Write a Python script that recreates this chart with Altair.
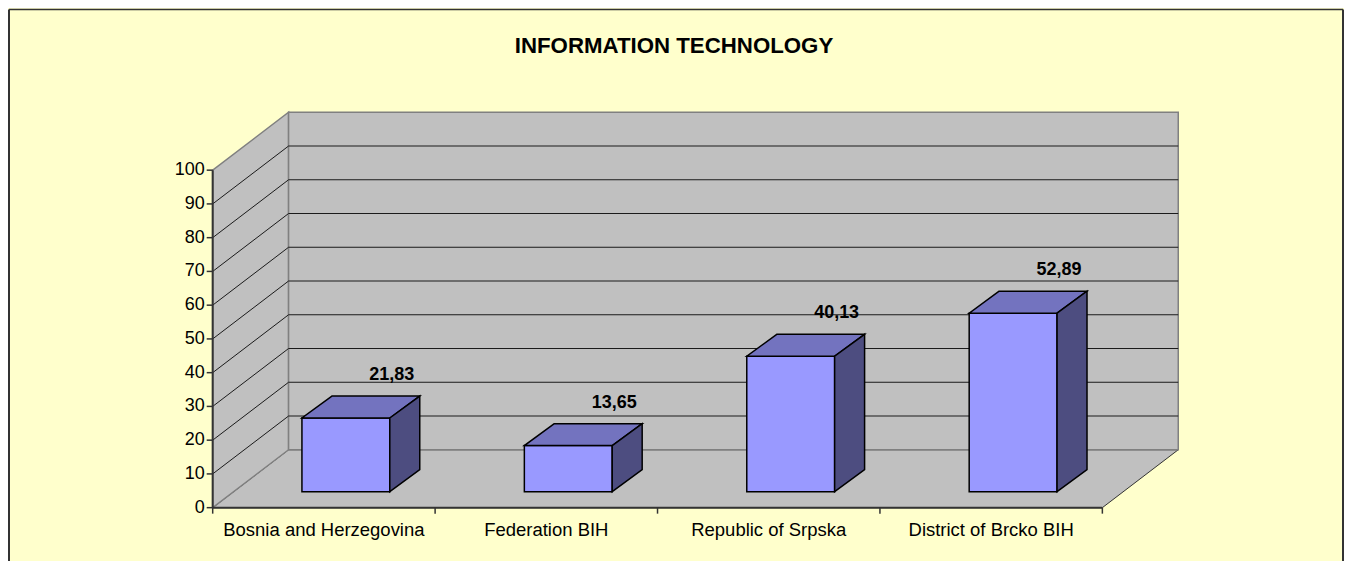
import altair as alt
import pandas as pd

# ---------------- data ----------------
categories = ["Bosnia and Herzegovina", "Federation BIH", "Republic of Srpska", "District of Brcko BIH"]
values = [21.83, 13.65, 40.13, 52.89]
y_ticks = [0, 10, 20, 30, 40, 50, 60, 70, 80, 90, 100]
grid_values = [10, 20, 30, 40, 50, 60, 70, 80, 90]
title_text = "INFORMATION TECHNOLOGY"

# ---------------- geometry (pixels) ----------------
PPU = 3.38                 # pixels per value unit
FRONT_W = 891              # width of floor front edge
DEPTH_X, DEPTH_Y = 76, 58  # 3D depth offset of the walls
BAR_W = 88
BAR_SHIFT_X, BAR_SHIFT_Y = 22, 16
BAR_DEPTH_X, BAR_DEPTH_Y = 30, 22
YMAX = 100
W = FRONT_W + DEPTH_X
H = int(round(YMAX * PPU + DEPTH_Y))
DYU = DEPTH_Y / PPU
CAT_W = FRONT_W / len(categories)
FONT = "Liberation Sans"

xs = alt.Scale(domain=[0, W], nice=False, zero=False)
ys = alt.Scale(domain=[0, H / PPU], nice=False, zero=False)


def X(f):
    return alt.X(f"{f}:Q", scale=xs, axis=None)


def Y(f):
    return alt.Y(f"{f}:Q", scale=ys, axis=None)


# ---------------- frame ----------------
floor_df = pd.DataFrame({"y": [0, DYU], "xa": [0, DEPTH_X], "xb": [FRONT_W, FRONT_W + DEPTH_X]})
floor = alt.Chart(floor_df).mark_area(orient="horizontal", fill="#C0C0C0", stroke="#333333", strokeWidth=1).encode(
    y=Y("y"), x=X("xa"), x2=alt.X2("xb"))

lw_df = pd.DataFrame({"x": [0, DEPTH_X], "ya": [0, DYU], "yb": [YMAX, YMAX + DYU]})
left_wall = alt.Chart(lw_df).mark_area(orient="vertical", fill="#C0C0C0", stroke="#808080", strokeWidth=1.5).encode(
    x=X("x"), y=Y("ya"), y2=alt.Y2("yb"))

bw_df = pd.DataFrame({"x0": [DEPTH_X], "x1": [W], "y0": [DYU], "y1": [YMAX + DYU]})
back_wall = alt.Chart(bw_df).mark_rect(fill="#C0C0C0", stroke="#808080", strokeWidth=1.5).encode(
    x=X("x0"), x2=alt.X2("x1"), y=Y("y0"), y2=alt.Y2("y1"))

grid_df = pd.DataFrame({"v": grid_values})
grid_df["yb"] = grid_df["v"] + DYU
grid_df["x0"] = 0.0
grid_df["xd"] = float(DEPTH_X)
grid_df["xw"] = float(W)
back_grid = alt.Chart(grid_df).mark_rule(color="#1a1a1a", strokeWidth=1).encode(
    x=X("xd"), x2=alt.X2("xw"), y=Y("yb"))
left_grid = alt.Chart(grid_df).mark_rule(color="#1a1a1a", strokeWidth=1).encode(
    x=X("x0"), x2=alt.X2("xd"), y=Y("v"), y2=alt.Y2("yb"))

axis_df = pd.DataFrame({"x": [0.0], "xe": [float(FRONT_W)], "y0": [0.0], "y1": [float(YMAX)]})
y_domain = alt.Chart(axis_df).mark_rule(color="#333333", strokeWidth=2).encode(
    x=X("x"), y=Y("y0"), y2=alt.Y2("y1"))
x_domain = alt.Chart(axis_df).mark_rule(color="#333333", strokeWidth=2).encode(
    x=X("x"), x2=alt.X2("xe"), y=Y("y0"))

# y axis ticks and labels
yt_df = pd.DataFrame({"v": y_ticks, "lab": [str(t) for t in y_ticks]})
y_tick_marks = alt.Chart(yt_df).mark_rule(color="#333333", strokeWidth=1.5).encode(
    x=alt.value(-6), x2=alt.value(0), y=Y("v"))
y_labels = alt.Chart(yt_df).mark_text(font=FONT, fontSize=18, color="black", align="right", baseline="middle").encode(
    x=alt.value(-8), y=Y("v"), text="lab:N")

bnd_df = pd.DataFrame({"b": [CAT_W * k for k in range(len(categories) + 1)]})
x_ticks = alt.Chart(bnd_df).mark_rule(color="#333333", strokeWidth=1.5).encode(
    x=X("b"), y=alt.value(H), y2=alt.value(H + 6))

cat_df = pd.DataFrame({"cat": categories, "c": [CAT_W * (i + 0.5) for i in range(len(categories))]})
x_labels = alt.Chart(cat_df).mark_text(font=FONT, fontSize=18.5, color="black", baseline="middle", align="center").encode(
    x=X("c"), y=alt.value(H + 22), text="cat:N")

# ---------------- bars ----------------
rows, top_rows, side_rows = [], [], []
for i, (c, v) in enumerate(zip(categories, values)):
    cx = CAT_W * (i + 0.5) + BAR_SHIFT_X
    x0, x1 = cx - BAR_W / 2, cx + BAR_W / 2
    yb = BAR_SHIFT_Y / PPU
    yt = yb + v
    dyu = BAR_DEPTH_Y / PPU
    rows.append({"cat": c, "v": v, "label": f"{v:.2f}".replace(".", ","), "x0": x0, "x1": x1, "yb": yb, "yt": yt})
    top_rows += [{"cat": c, "y": yt, "xa": x0, "xb": x1},
                 {"cat": c, "y": yt + dyu, "xa": x0 + BAR_DEPTH_X, "xb": x1 + BAR_DEPTH_X}]
    side_rows += [{"cat": c, "x": x1, "ya": yb, "yb": yt},
                  {"cat": c, "x": x1 + BAR_DEPTH_X, "ya": yb + dyu, "yb": yt + dyu}]
bars_df = pd.DataFrame(rows)
top_df = pd.DataFrame(top_rows)
side_df = pd.DataFrame(side_rows)

front = alt.Chart(bars_df).mark_rect(fill="#9999FF", stroke="black", strokeWidth=1.5).encode(
    x=X("x0"), x2=alt.X2("x1"), y=Y("yb"), y2=alt.Y2("yt"))
top = alt.Chart(top_df).mark_area(orient="horizontal", fill="#7373BF", stroke="black", strokeWidth=1.5).encode(
    y=Y("y"), x=X("xa"), x2=alt.X2("xb"), detail="cat:N")
side = alt.Chart(side_df).mark_area(orient="vertical", fill="#4D4D80", stroke="black", strokeWidth=1.5).encode(
    x=X("x"), y=Y("ya"), y2=alt.Y2("yb"), detail="cat:N")
labels = alt.Chart(bars_df).mark_text(font=FONT, fontSize=18, fontWeight="bold", color="black",
                                      align="center", baseline="middle", dx=2, dy=-43).encode(
    x=X("x1"), y=Y("yt"), text="label:N")

# ---------------- title & border ----------------
title_df = pd.DataFrame({"t": [title_text]})
title = alt.Chart(title_df).mark_text(font=FONT, fontSize=22.3, fontWeight="bold", color="black",
                                      align="center", baseline="middle").encode(
    x=alt.value(462), y=alt.value(-66), text="t:N")

one = pd.DataFrame({"a": [0]})
border_left = alt.Chart(one).mark_rule(color="#333333", strokeWidth=2).encode(
    x=alt.value(-204), y=alt.value(-103), y2=alt.value(H + 60))
border_right = alt.Chart(one).mark_rule(color="#333333", strokeWidth=2).encode(
    x=alt.value(1132), y=alt.value(-103), y2=alt.value(H + 60))
border_top = alt.Chart(one).mark_rule(color="#333333", strokeWidth=1.5).encode(
    x=alt.value(-204), x2=alt.value(1132), y=alt.value(-103))

chart = alt.layer(
    floor, left_wall, back_wall, back_grid, left_grid, y_domain, x_domain, y_tick_marks, y_labels,
    x_ticks, x_labels, front, top, side, labels, title, border_left, border_right, border_top
).properties(
    width=W, height=H, background="#FFFFCC",
    padding={"left": 205, "top": 104, "right": 166, "bottom": 53},
    autosize=alt.AutoSizeParams(type="none"),
).configure_view(stroke=None)

chart.save("out.html", embed_options={"renderer": "svg", "actions": False})
